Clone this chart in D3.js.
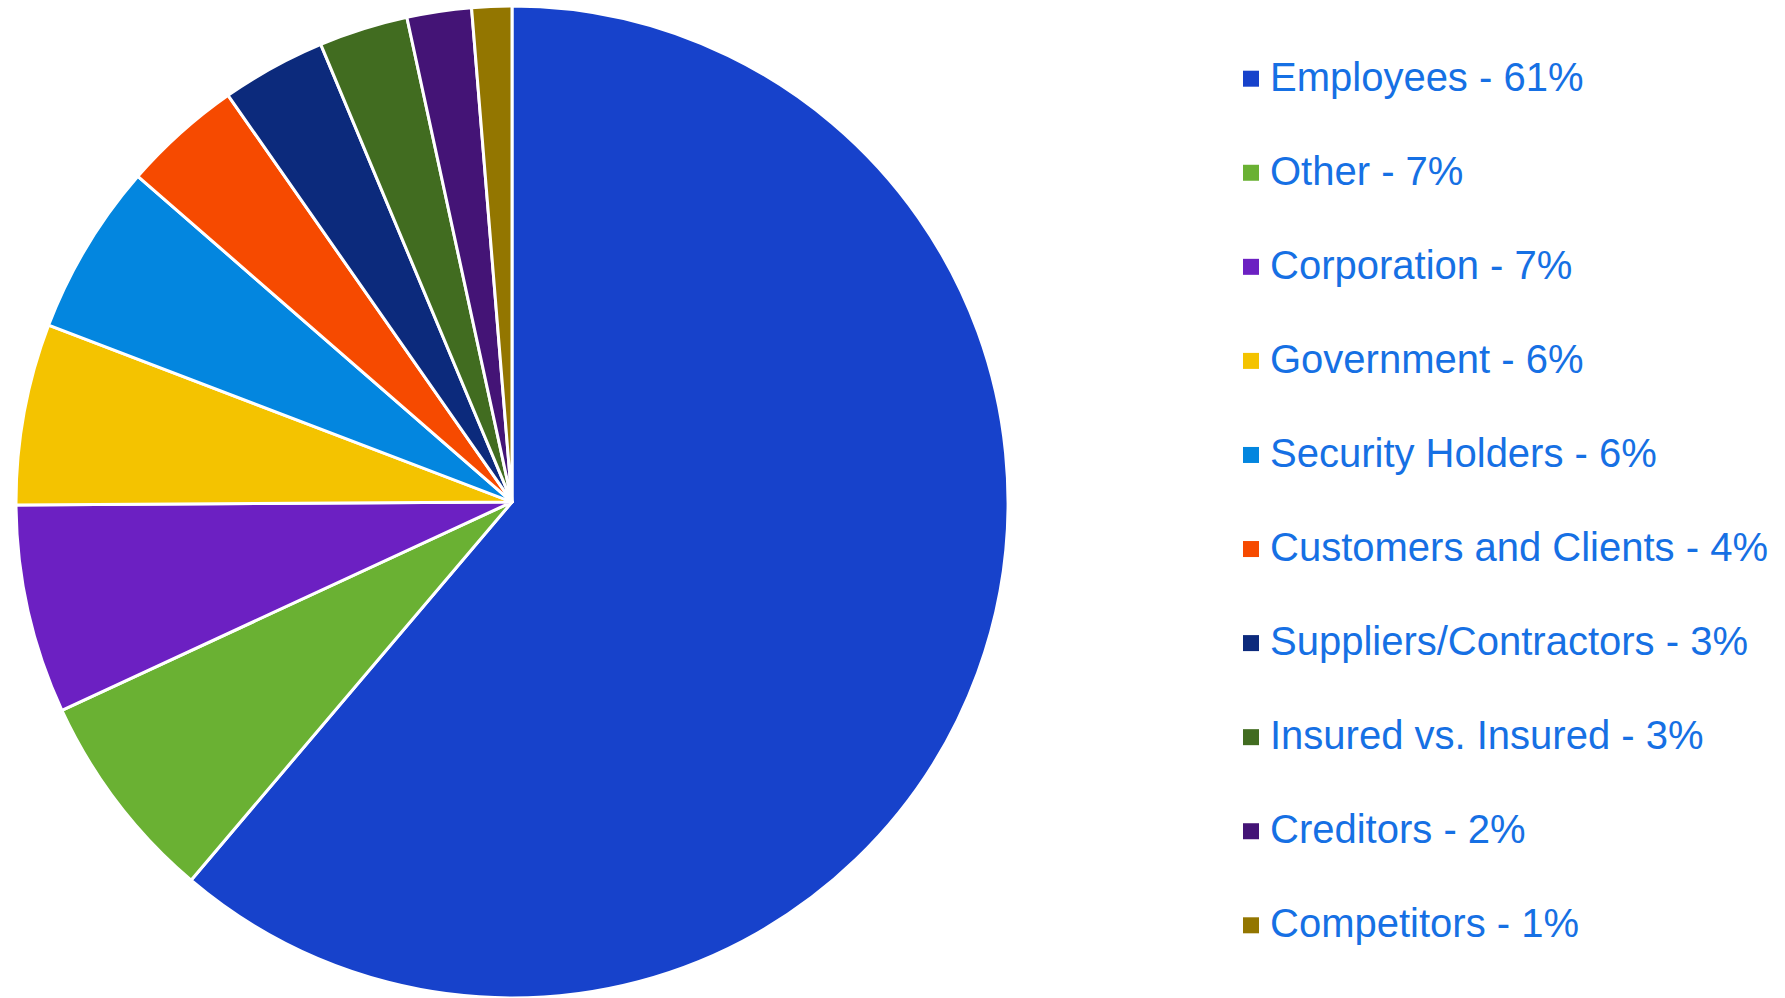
<!DOCTYPE html>
<html>
<head>
<meta charset="utf-8">
<script src="https://cdn.jsdelivr.net/npm/d3@7"></script>
<style>
  body { margin: 0; background: #fff; }
  svg { display: block; }
</style>
</head>
<body>
<svg id="chart" width="1785" height="998"></svg>
<script>
// categories and shares (%)
var categories = ["Employees", "Other", "Corporation", "Government", "Security Holders",
                  "Customers and Clients", "Suppliers/Contractors", "Insured vs. Insured",
                  "Creditors", "Competitors"];
var shares = [61.2, 6.9, 6.8, 5.9, 5.6, 3.9, 3.4, 2.9, 2.1, 1.3];
var sliceColors = ["#1742cb", "#6ab133", "#6c20c2", "#f4c300", "#0386df",
                   "#f64a00", "#0c2a7c", "#416c20", "#441476", "#937600"];

var svg = d3.select("#chart");
var cx = 512, cy = 502, radius = 496;

var data = categories.map(function(c, i){ return {name: c, value: shares[i]}; });

var color = d3.scaleOrdinal().domain(categories).range(sliceColors);

var pie = d3.pie()
    .value(function(d){ return d.value; })
    .sort(null);

var arc = d3.arc().innerRadius(0).outerRadius(radius);

var g = svg.append("g").attr("transform", "translate(" + cx + "," + cy + ")");

g.selectAll("path.slice")
    .data(pie(data))
    .enter()
    .append("path")
    .attr("class", "slice")
    .attr("d", arc)
    .attr("fill", function(d){ return color(d.data.name); })
    .attr("stroke", "#fff")
    .attr("stroke-width", 3)
    .attr("stroke-linejoin", "round");

// legend
var total = d3.sum(shares);
var legendY = d3.scalePoint().domain(categories).range([70.7, 917.3]);

var legend = svg.selectAll(".legendItem")
    .data(data)
    .enter()
    .append("g")
    .attr("class", "legendItem")
    .attr("transform", function(d){ return "translate(1243," + legendY(d.name) + ")"; });

legend.append("rect")
    .attr("width", 16)
    .attr("height", 16)
    .attr("fill", function(d){ return color(d.name); });

legend.append("text")
    .attr("x", 27)
    .attr("y", 20)
    .attr("fill", "#1670e4")
    .attr("font-family", "'Liberation Sans', Arial, sans-serif")
    .attr("font-size", 40)
    .text(function(d){ return d.name + " - " + Math.round(d.value / total * 100) + "%"; });
</script>
</body>
</html>
